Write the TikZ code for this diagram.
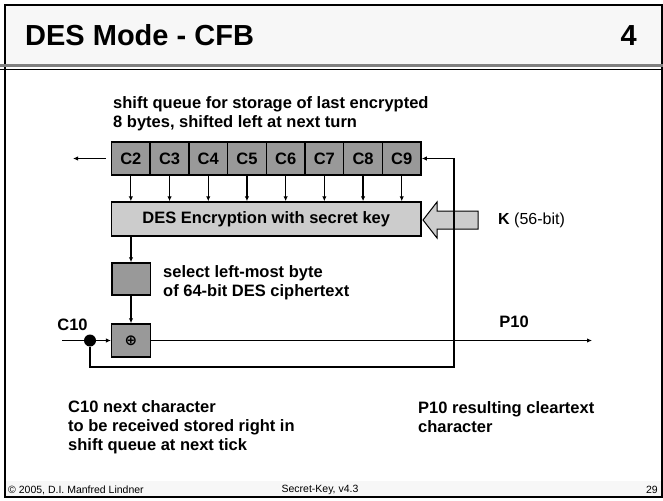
\documentclass[tikz,border=0pt]{standalone}
\usepackage{fontspec}
\setmainfont{Liberation Sans}
\newfontfamily\symbolfont{DejaVu Sans}
\usetikzlibrary{arrows.meta}
\definecolor{cellgray}{RGB}{153,153,153}
\definecolor{desgray}{RGB}{204,204,204}
\definecolor{bandgray}{RGB}{247,247,247}
\begin{document}
\begin{tikzpicture}
[x=1pt,y=-1pt,
 cellbox/.style={shape=rectangle,draw,line width=1.5pt,fill=cellgray,inner sep=0pt,%
   minimum width=38.7pt,minimum height=33pt,font=\bfseries\fontsize{16.5}{19}\selectfont},
 desbox/.style={cellbox,fill=desgray,minimum width=309.5pt,minimum height=34pt},
 labeltext/.style={font=\bfseries\fontsize{16.5}{19}\selectfont,align=left,inner sep=0pt},
 foottext/.style={font=\fontsize{10.5}{12}\selectfont,inner sep=0pt},
 linedecorate/.style={line width=1.2pt},
 arrowdecorate/.style={-{Latex[length=5pt,width=4.5pt]},line width=1.2pt}]
\useasboundingbox (0,0) rectangle (663,500);
%% slide frame
\fill[bandgray] (5,5) rectangle (663,64);
\fill[bandgray] (5,481) rectangle (663,497);
\draw[line width=1.5pt] (663,5) -- (5,5) -- (5,497) -- (663,497);
\draw[line width=1.5pt] (662,5) -- (662,497);
\draw[gray,line width=2.5pt] (0,65.5) -- (663,65.5);
\draw[line width=1.5pt] (0,69.5) -- (663,69.5);
\node (title) at (25,46) [anchor=base west,inner sep=0pt,font=\bfseries\fontsize{29}{34}\selectfont] {DES Mode - CFB};
\node (number) at (637,46) [anchor=base east,inner sep=0pt,font=\bfseries\fontsize{29}{34}\selectfont] {4};
\node (copy) at (8,490) [foottext,anchor=west] {© 2005, D.I. Manfred Lindner};
\node (footer) at (320,490) [foottext] {Secret-Key, v4.3};
\node (page) at (658,490) [foottext,anchor=east] {29};
%% nodes or vertices
\foreach \name/\i in {C2/0, C3/1, C4/2, C5/3, C6/4, C7/5, C8/6, C9/7} {
  \node (\name) at ({130.85+38.7*\i},158.5) [cellbox] {\name};
}
\node (des) at (266.25,219) [desbox] {DES Encryption with secret key};
\node (sel) at (131,279) [cellbox,minimum width=38.5pt,minimum height=32pt] {};
\node (xor) at (131,340.5) [cellbox,font=\symbolfont\bfseries\fontsize{15}{18}\selectfont] {⊕};
\node (dot) at (90,340.5) [circle,fill,inner sep=0pt,minimum size=12pt] {};
\coordinate (in) at (62,340.5);
\coordinate (out) at (592,340.5);
\coordinate (shiftout) at (73,158.5);
\coordinate (loop) at (454,367);
%% key arrow
\filldraw[fill=desgray,line width=1pt] (423,220) -- (437,202) -- (437,211) -- (478,211)
  -- (478,229) -- (437,229) -- (437,238) -- cycle;
%% edges or lines
\path
\foreach \name in {C2, C3, C4, C5, C6, C7, C8, C9} {
  (\name.south) edge[arrowdecorate] (\name.south |- des.north)
};
\draw[arrowdecorate,shorten <=5pt] (C2) -- (shiftout);
\draw[arrowdecorate] (sel.north |- des.south) -- (sel.north);
\draw[arrowdecorate] (sel) -- (xor);
\draw[linedecorate] (in) -- (dot);
\draw[arrowdecorate] (dot) -- (xor);
\draw[arrowdecorate] (xor) -- (out);
\draw[arrowdecorate] (dot) |- (loop) |- (C9);
%% labels
\node (queuetext) at (113,114) [labeltext,anchor=west] {shift queue for storage of last encrypted\\8 bytes, shifted left at next turn};
\node (seltext) at (163,282.5) [labeltext,anchor=west] {select left-most byte\\of 64-bit DES ciphertext};
\node (keytext) at (498,220) [anchor=west,inner sep=0pt,font=\fontsize{16}{19}\selectfont] {\textbf{K} (56-bit)};
\node (c10) at (72.5,325) [labeltext] {C10};
\node (p10) at (514,322) [labeltext] {P10};
\node (c10text) at (68,427) [labeltext,anchor=west] {C10 next character\\to be received stored right in\\shift queue at next tick};
\node (p10text) at (418,417.5) [labeltext,anchor=west] {P10 resulting cleartext\\character};
\end{tikzpicture}
\end{document}
